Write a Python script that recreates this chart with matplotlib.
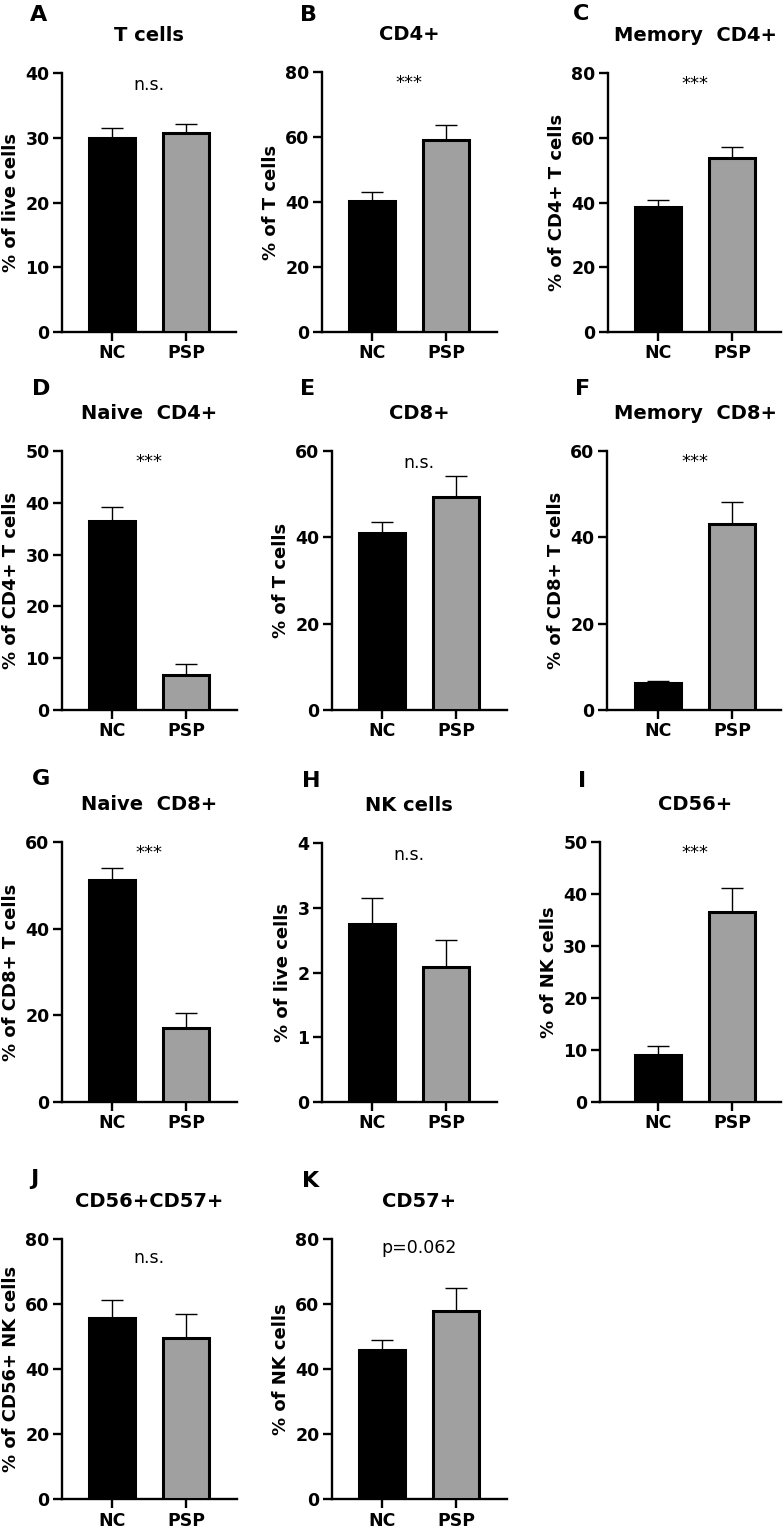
import matplotlib
matplotlib.use('Agg')
import matplotlib.pyplot as plt
import numpy as np

# data
groups = ['NC', 'PSP']
letters = ['A', 'B', 'C', 'D', 'E', 'F', 'G', 'H', 'I', 'J', 'K']
titles = ['T cells', 'CD4+', 'Memory  CD4+', 'Naive  CD4+', 'CD8+', 'Memory  CD8+',
          'Naive  CD8+', 'NK cells', 'CD56+', 'CD56+CD57+', 'CD57+']
ylabels = ['% of live cells', '% of T cells', '% of CD4+ T cells', '% of CD4+ T cells',
           '% of T cells', '% of CD8+ T cells', '% of CD8+ T cells', '% of live cells',
           '% of NK cells', '% of CD56+ NK cells', '% of NK cells']
nc_mean = [30.0, 40.3, 38.5, 36.5, 40.9, 6.3, 51.3, 2.75, 9.1, 55.8, 45.8]
nc_err = [1.5, 2.8, 2.2, 2.6, 2.7, 0.4, 2.6, 0.40, 1.7, 5.5, 3.1]
psp_mean = [30.7, 59.0, 53.8, 6.8, 49.3, 43.2, 17.0, 2.09, 36.6, 49.4, 57.9]
psp_err = [1.5, 4.6, 3.3, 2.1, 5.0, 4.9, 3.5, 0.41, 4.6, 7.5, 6.9]
ymax = [40, 80, 80, 50, 60, 60, 60, 4, 50, 80, 80]
ystep = [10, 20, 20, 10, 20, 20, 20, 1, 10, 20, 20]
signif = ['n.s.', '***', '***', '***', 'n.s.', '***', '***', 'n.s.', '***', 'n.s.', 'p=0.062']

W, H = 783, 1531
fig = plt.figure(figsize=(W / 100, H / 100), dpi=100)

# layout in pixels: spine x, right x, top y, bottom y, NC bar centre x
boxes = [
    (62, 236, 73, 332, 112),
    (322, 497, 72, 332, 372),
    (608, 781, 73, 332, 658),
    (62, 237, 451, 710, 112),
    (332, 507, 451, 710, 382),
    (607, 781, 451, 710, 658),
    (62, 237, 842, 1102, 112),
    (322, 497, 843, 1102, 372),
    (600, 781, 842, 1102, 658),
    (62, 237, 1239, 1499, 112),
    (332, 507, 1239, 1499, 382),
]
letter_pos = [(30, 21), (300, 21), (573, 20), (32, 395), (300, 395), (575, 395),
              (32, 785), (302, 787), (578, 787), (30, 1185), (302, 1187)]
sig_drop = [17, 16, 16, 16, 17, 16, 16, 17, 16, 24, 14]
unit = 74.0  # pixels between the two bars

for i in range(len(letters)):
    sx, rx, ty, by, c = boxes[i]
    ax = fig.add_axes([sx / W, 1 - by / H, (rx - sx) / W, (by - ty) / H])
    x = np.arange(len(groups))
    means = [nc_mean[i], psp_mean[i]]
    errs = [nc_err[i], psp_err[i]]

    ax.errorbar(x, means, yerr=[[0, 0], errs], fmt='none', ecolor='black',
                elinewidth=1.0, capsize=8, capthick=1.0, zorder=2)
    ax.bar(x, means, width=0.63, color=['black', '#a0a0a0'], edgecolor='black',
           linewidth=2.2, zorder=3)

    ax.set_xlim((sx - c) / unit, (rx - c) / unit)
    ax.set_ylim(0, ymax[i])
    ticks = np.arange(0, ymax[i] + ystep[i] / 2, ystep[i])
    ax.set_yticks(ticks)
    ax.set_yticklabels([str(int(t)) for t in ticks])
    ax.set_xticks(x)
    ax.set_xticklabels(groups)

    for side in ['top', 'right']:
        ax.spines[side].set_visible(False)
    for side in ['left', 'bottom']:
        ax.spines[side].set_linewidth(1.7)
    ax.tick_params(axis='both', width=1.7, length=6.5, pad=2.5,
                   labelsize=12.5, direction='out')
    for lab in ax.get_xticklabels() + ax.get_yticklabels():
        lab.set_fontweight('bold')
    ax.set_ylabel(ylabels[i], fontsize=13, fontweight='bold', labelpad=4)

    ax.annotate(titles[i], xy=(0.5, 1), xycoords=('data', 'axes fraction'),
                xytext=(0, 32 * 0.72), textcoords='offset points',
                ha='center', va='baseline', fontsize=14, fontweight='bold')
    fs = 13 if signif[i] == '***' else 12.5
    ax.annotate(signif[i], xy=(0.5, 1), xycoords=('data', 'axes fraction'),
                xytext=(0, -sig_drop[i] * 0.72), textcoords='offset points',
                ha='center', va='baseline', fontsize=fs)

    lx, ly = letter_pos[i]
    fig.text(lx / W, 1 - ly / H, letters[i], fontsize=16, fontweight='bold',
             ha='left', va='baseline')

fig.savefig('out.png', dpi=100)
